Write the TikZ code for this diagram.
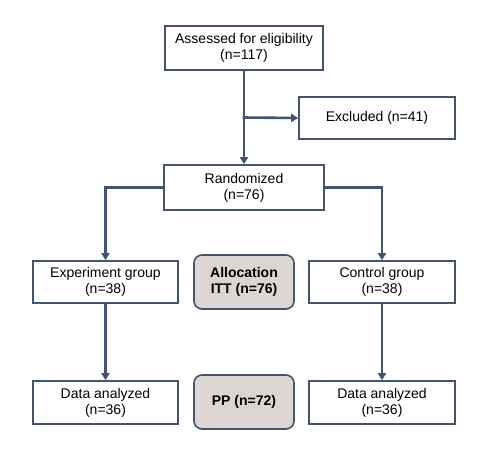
\documentclass[tikz,border=0pt]{standalone}
\usepackage{fontspec}
\setmainfont{Liberation Sans}
\usetikzlibrary{arrows.meta,calc}
\definecolor{lineblue}{HTML}{44536F}
\definecolor{boxgray}{HTML}{DDD5D2}
\begin{document}
\begin{tikzpicture}[x=1pt,y=-1pt,
  every node/.style={font=\fontsize{14}{16}\selectfont, align=center},
  flowbox/.style={draw=lineblue, line width=1.6pt, fill=white, inner sep=0pt},
  phasebox/.style={draw=lineblue, line width=1.6pt, fill=boxgray, rounded corners=8pt, inner sep=0pt, font=\fontsize{14}{16}\selectfont\bfseries},
  link/.style={draw=lineblue, line width=2.6pt, -{Triangle[length=7pt,width=8pt]}}]
\useasboundingbox (0,0) rectangle (500,461);
% top part
\node[flowbox, minimum width=158pt, minimum height=44pt] (assess) at (244,48) {Assessed for eligibility\\(n=117)};
\node[flowbox, minimum width=156pt, minimum height=42pt] (excl) at (377,118) {Excluded (n=41)};
\node[flowbox, minimum width=160pt, minimum height=45pt] (random) at (244,187.5) {Randomized\\(n=76)};
% groups
\node[flowbox, minimum width=145pt, minimum height=42pt] (expgroup) at (105.5,282) {Experiment group\\(n=38)};
\node[phasebox, minimum width=100pt, minimum height=54pt] (alloc) at (244,282) {Allocation\\ITT (n=76)};
\node[flowbox, minimum width=146pt, minimum height=42pt] (ctrlgroup) at (382,282) {Control group\\(n=38)};
% analysis
\node[flowbox, minimum width=145pt, minimum height=43pt] (expdata) at (105.5,402.5) {Data analyzed\\(n=36)};
\node[phasebox, minimum width=100pt, minimum height=54pt] (pp) at (244,402) {PP (n=72)};
\node[flowbox, minimum width=146pt, minimum height=43pt] (ctrldata) at (382,402.5) {Data analyzed\\(n=36)};
\coordinate (split) at ($(assess.south)!0.5!(random.north)$);
\draw[link] (assess.south) -- (random.north);
\draw[link] ([xshift=-1.3pt]split) -- (excl.west);
\draw[link] (random.west) -| (expgroup.north);
\draw[link] (random.east) -| (ctrlgroup.north);
\draw[link] (expgroup.south) -- (expdata.north);
\draw[link] (ctrlgroup.south) -- (ctrldata.north);
\end{tikzpicture}
\end{document}
